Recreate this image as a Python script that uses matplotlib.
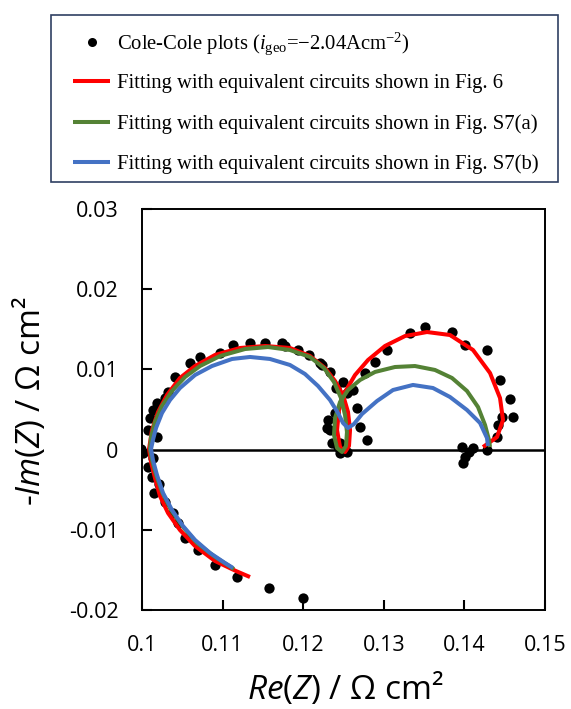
import matplotlib
matplotlib.use("Agg")
import matplotlib.pyplot as plt
from matplotlib.lines import Line2D
from matplotlib.patches import Rectangle

plt.rcParams['mathtext.fontset'] = 'custom'
plt.rcParams['mathtext.rm'] = 'Liberation Serif'
plt.rcParams['mathtext.it'] = 'Liberation Serif:italic'
plt.rcParams['mathtext.sf'] = 'Open Sans:italic'

# ---- measured Cole-Cole points ----
data_re = [0.11998, 0.11576, 0.11179, 0.10906, 0.10695, 0.10534, 0.10447, 0.10385, 0.10285,
           0.10211, 0.10149, 0.10124, 0.10074, 0.10136, 0.10012, 0.09988,
           0.10186, 0.10074, 0.10099, 0.10136, 0.10186, 0.10285, 0.10323, 0.10409, 0.10596,
           0.10720, 0.10968, 0.11129, 0.11340, 0.11526, 0.11737, 0.11774, 0.11935, 0.12072,
           0.12208, 0.12333, 0.12407, 0.12308, 0.12333, 0.12357,
           0.12494, 0.12543, 0.12668, 0.12705, 0.12792, 0.12457, 0.12543, 0.12432, 0.12457,
           0.12395, 0.12295, 0.12233, 0.12618, 0.12767, 0.12891, 0.13040,
           0.13325, 0.13511, 0.13846, 0.14007, 0.14280, 0.14442, 0.14566, 0.14603, 0.14467,
           0.14417, 0.14405, 0.14280,
           0.13970, 0.14107, 0.14007, 0.13983, 0.14057]
data_im = [-0.01850, -0.01726, -0.01589, -0.01439, -0.01252, -0.01102, -0.00915, -0.00791, -0.00653,
           -0.00429, -0.00541, -0.00342, -0.00217, -0.00105, -0.00042, 0.00007,
           0.00157, 0.00244, 0.00394, 0.00494, 0.00581, 0.00643, 0.00718, 0.00905, 0.01080,
           0.01155, 0.01205, 0.01304, 0.01329, 0.01329, 0.01329, 0.01292, 0.01242, 0.01180,
           0.01080, 0.00968, 0.00768, 0.00369, 0.00244, 0.00082,
           0.00843, 0.00706, 0.00519, 0.00282, 0.00120, 0.00082, -0.00030, 0.00032, -0.00042,
           0.00456, 0.00269, 0.01055, 0.00743, 0.00955, 0.01092, 0.01242,
           0.01454, 0.01529, 0.01466, 0.01304, 0.01242, 0.00868, 0.00631, 0.00406, 0.00406,
           0.00307, 0.00157, -0.00005,
           0.00032, 0.00020, -0.00092, -0.00167, -0.00030]

# ---- fit: Fig. 6 (red) ----
fig6_re = [0.11340, 0.11166, 0.10906, 0.10658, 0.10471, 0.10323, 0.10223, 0.10161, 0.10112,
           0.10087, 0.10124, 0.10199, 0.10310, 0.10471, 0.10658, 0.10906, 0.11216, 0.11526,
           0.11836, 0.12084, 0.12270, 0.12395, 0.12494, 0.12556, 0.12581, 0.12568, 0.12519,
           0.12457, 0.12420, 0.12444, 0.12519, 0.12643, 0.12804, 0.13015, 0.13263, 0.13536,
           0.13821, 0.14107, 0.14318, 0.14442, 0.14479, 0.14405, 0.14231]
fig6_im = [-0.01589, -0.01514, -0.01389, -0.01202, -0.01003, -0.00791, -0.00579, -0.00354, -0.00155,
           0.00007, 0.00244, 0.00469, 0.00681, 0.00893, 0.01042, 0.01180, 0.01267, 0.01292,
           0.01267, 0.01167, 0.01017, 0.00855, 0.00681, 0.00469, 0.00244, 0.00045, -0.00030,
           0.00032, 0.00244, 0.00494, 0.00718, 0.00930, 0.01117, 0.01292, 0.01416, 0.01466,
           0.01429, 0.01242, 0.00955, 0.00643, 0.00369, 0.00157, 0.00032]

# ---- fit: Fig. S7(a) (green) ----
s7a_re = [0.11141, 0.10906, 0.10682, 0.10509, 0.10360, 0.10248, 0.10174, 0.10124, 0.10099,
          0.10112, 0.10161, 0.10248, 0.10372, 0.10534, 0.10720, 0.10968, 0.11278, 0.11563,
          0.11836, 0.12084, 0.12258, 0.12382, 0.12469, 0.12519, 0.12543, 0.12531, 0.12482,
          0.12420, 0.12382, 0.12395, 0.12457, 0.12556, 0.12705, 0.12891, 0.13139, 0.13387,
          0.13635, 0.13846, 0.14032, 0.14169, 0.14256, 0.14305, 0.14318]
s7a_im = [-0.01489, -0.01339, -0.01165, -0.00965, -0.00753, -0.00529, -0.00317, -0.00130, 0.00007,
          0.00157, 0.00344, 0.00544, 0.00731, 0.00905, 0.01042, 0.01167, 0.01254, 0.01279,
          0.01242, 0.01155, 0.01017, 0.00843, 0.00643, 0.00431, 0.00219, 0.00045, -0.00030,
          0.00020, 0.00182, 0.00394, 0.00594, 0.00743, 0.00868, 0.00968, 0.01030, 0.01042,
          0.00993, 0.00893, 0.00731, 0.00531, 0.00307, 0.00120, 0.00032]

# ---- fit: Fig. S7(b) (blue) ----
s7b_re = [0.11129, 0.11030, 0.10844, 0.10658, 0.10509, 0.10372, 0.10261, 0.10186, 0.10136,
          0.10112, 0.10136, 0.10174, 0.10248, 0.10347, 0.10471, 0.10658, 0.10868, 0.11117,
          0.11340, 0.11588, 0.11836, 0.12022, 0.12184, 0.12333, 0.12432, 0.12494, 0.12556,
          0.12630, 0.12730, 0.12916, 0.13114, 0.13362, 0.13610, 0.13821, 0.14032, 0.14194,
          0.14280, 0.14293]
s7b_im = [-0.01476, -0.01414, -0.01289, -0.01127, -0.00953, -0.00753, -0.00541, -0.00317, -0.00130,
          0.00007, 0.00120, 0.00269, 0.00456, 0.00618, 0.00768, 0.00930, 0.01042, 0.01130,
          0.01155, 0.01130, 0.01055, 0.00943, 0.00793, 0.00618, 0.00456, 0.00332, 0.00269,
          0.00319, 0.00444, 0.00606, 0.00743, 0.00806, 0.00768, 0.00656, 0.00494, 0.00332,
          0.00145, 0.00045]

x_ticks = [0.1, 0.11, 0.12, 0.13, 0.14, 0.15]
x_ticklabels = ['0.1', '0.11', '0.12', '0.13', '0.14', '0.15']
y_ticks = [-0.02, -0.01, 0.0, 0.01, 0.02, 0.03]
y_ticklabels = ['-0.02', '-0.01', '0', '0.01', '0.02', '0.03']

labels = [r'Cole-Cole plots ($\mathit{i}_{\mathrm{geo}}$=−2.04Acm$^{\mathrm{-2}}$)',
          'Fitting with equivalent circuits shown in Fig. 6',
          'Fitting with equivalent circuits shown in Fig. S7(a)',
          'Fitting with equivalent circuits shown in Fig. S7(b)']

RED = '#FF0000'
GREEN = '#548235'
BLUE = '#4472C4'

W, H = 571, 709
fig = plt.figure(figsize=(W / 100, H / 100), dpi=100)
ax = fig.add_axes([142 / W, 1 - 610 / H, (545 - 142) / W, (610 - 209) / H])

ax.axhline(0, color='black', lw=1.8, zorder=1)
ax.plot(data_re, data_im, 'o', color='black', ms=7.4, mew=0, zorder=2)
l_red, = ax.plot(fig6_re, fig6_im, '-', color=RED, lw=2.9, zorder=3,
                 solid_capstyle='butt', solid_joinstyle='round')
l_green, = ax.plot(s7a_re, s7a_im, '-', color=GREEN, lw=2.9, zorder=4,
                   solid_capstyle='butt', solid_joinstyle='round')
l_blue, = ax.plot(s7b_re, s7b_im, '-', color=BLUE, lw=2.9, zorder=5,
                  solid_capstyle='butt', solid_joinstyle='round')

ax.set_xlim(0.1, 0.15)
ax.set_ylim(-0.02, 0.03)
ax.set_xticks(x_ticks)
ax.set_xticklabels(x_ticklabels)
ax.set_yticks(y_ticks)
ax.set_yticklabels(y_ticklabels)

for lab in ax.get_xticklabels() + ax.get_yticklabels():
    lab.set_fontfamily('Open Sans')
    lab.set_fontsize(15.5)
ax.tick_params(direction='in', length=7, width=1.5, color='black')
ax.tick_params(axis='y', pad=17)
ax.tick_params(axis='x', pad=18)
for s in ax.spines.values():
    s.set_linewidth(1.4)
    s.set_color('black')

ax.set_xlabel(r'$\mathsf{Re}$($\mathsf{Z}$) / Ω cm²', fontfamily='Open Sans', fontsize=24)
ax.set_ylabel(r'-$\mathsf{Im}$($\mathsf{Z}$) / Ω cm²', fontfamily='Open Sans', fontsize=24)
ax.xaxis.label.set_va('center')
ax.yaxis.label.set_va('center')
ax.xaxis.set_label_coords(0.504, -0.195)
ax.yaxis.set_label_coords(-0.280, 0.52)

# ---- legend box drawn in figure pixel positions ----
def fx(px):
    return px / W


def fy(py):
    return 1 - py / H


fig.add_artist(Rectangle((fx(51), fy(182)), fx(558) - fx(51), fy(15) - fy(182),
                         transform=fig.transFigure, fill=False,
                         edgecolor='#2F3F62', lw=1.2))
row_y = [42, 81, 122, 162]
styles = [dict(ls='none', marker='o', color='black', ms=6.5, mew=0),
          dict(color=RED, lw=2.9, solid_capstyle='butt'),
          dict(color=GREEN, lw=2.9, solid_capstyle='butt'),
          dict(color=BLUE, lw=2.9, solid_capstyle='butt')]
for i, (ry, st, lab) in enumerate(zip(row_y, styles, labels)):
    if i == 0:
        fig.add_artist(Line2D([fx(92)], [fy(ry)], transform=fig.transFigure, **st))
    else:
        fig.add_artist(Line2D([fx(73), fx(110)], [fy(ry), fy(ry)],
                              transform=fig.transFigure, **st))
    fig.text(fx(117), fy(ry + 7), lab, ha='left', va='baseline',
             fontfamily='Liberation Serif', fontsize=14.9)

fig.savefig('out.png', dpi=100)
